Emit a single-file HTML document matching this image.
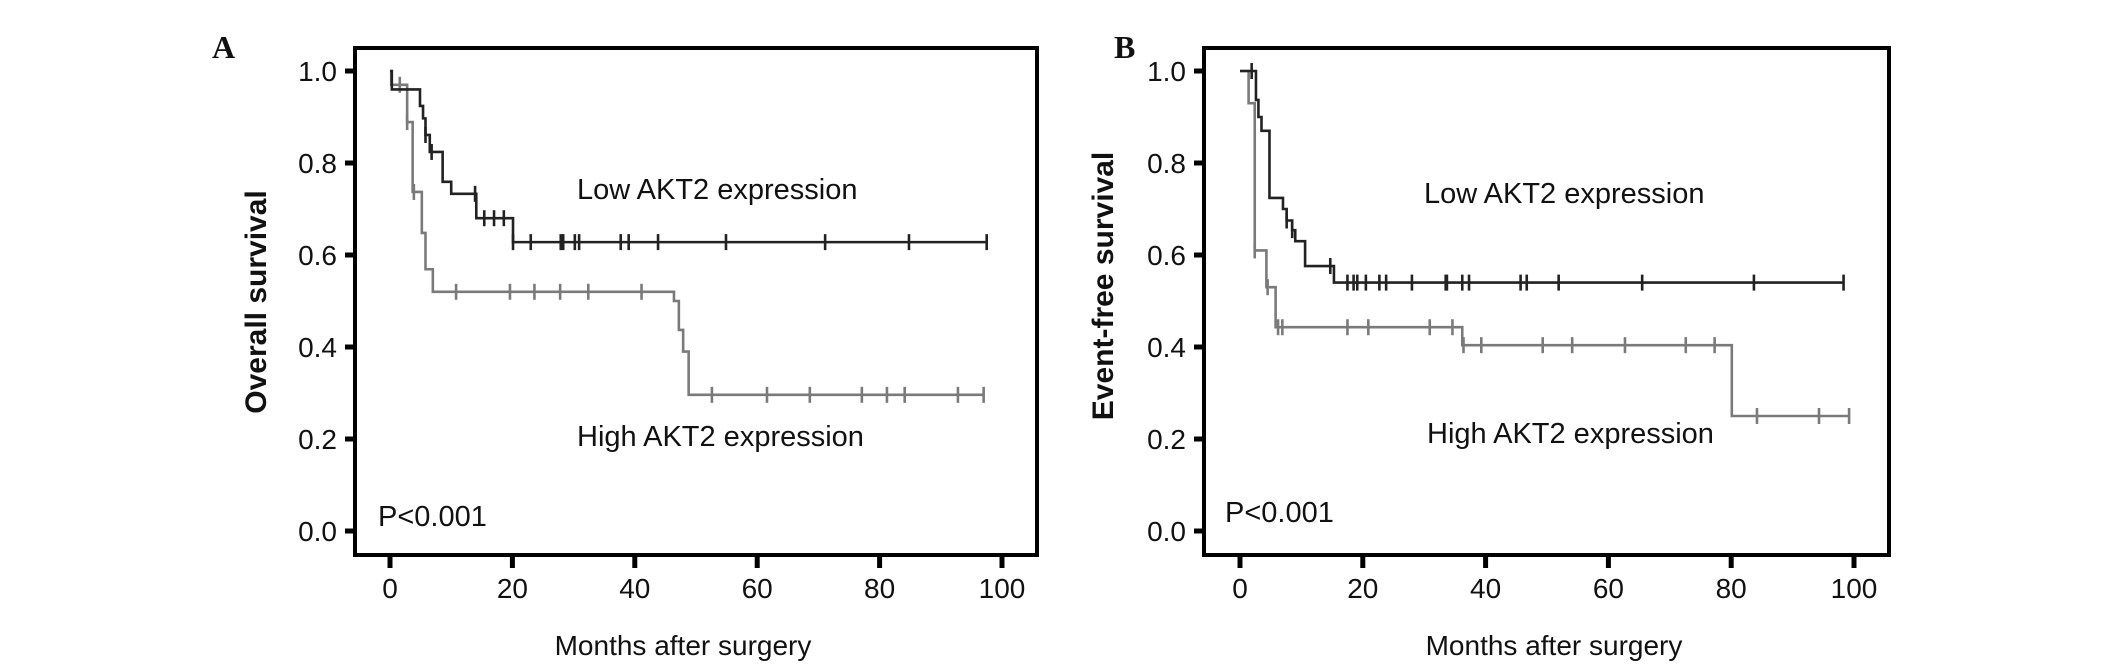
<!DOCTYPE html>
<html><head><meta charset="utf-8"><style>
html,body{margin:0;padding:0;background:#fff;}
svg{display:block;}
text{font-family:"Liberation Sans",Arial,sans-serif;fill:#111;}
</style></head><body>
<svg id="chart" width="2126" height="671" viewBox="0 0 2126 671"></svg>
<script>
// ---- data ----
const xTicks = [0, 20, 40, 60, 80, 100];
const yTicks = [0.0, 0.2, 0.4, 0.6, 0.8, 1.0];
const yTickLabels = ["0.0", "0.2", "0.4", "0.6", "0.8", "1.0"];
// Panel A: overall survival, step points [time, survival]
const osLowSteps = [[0,1.0],[0.3,0.96],[4.9,0.924],[5.4,0.897],[5.8,0.861],[6.5,0.824],[8.6,0.759],[10.0,0.733],[14.1,0.68],[20.1,0.628],[97.5,0.628]];
const osLowCensor = [5.8,6.8,13.9,15.4,17.0,18.6,20.1,23.0,27.9,28.3,30.2,30.9,37.7,39.0,43.8,54.9,71.1,84.8,97.5];
const osHighSteps = [[0,1.0],[0.2,0.97],[2.8,0.889],[3.7,0.737],[5.2,0.648],[5.8,0.569],[7.0,0.52],[46.4,0.50],[47.2,0.437],[47.9,0.39],[48.8,0.296],[97.0,0.296]];
const osHighCensor = [1.6,2.8,3.9,10.8,19.6,23.6,27.8,32.4,41.1,52.6,61.6,68.6,77.1,81.2,84.1,92.8,97.0];
// Panel B: event-free survival
const efsLowSteps = [[0,1.0],[2.6,0.937],[3.0,0.90],[3.5,0.87],[4.8,0.724],[7.0,0.70],[7.6,0.675],[8.5,0.654],[9.0,0.63],[10.6,0.576],[15.3,0.54],[98.3,0.54]];
const efsLowCensor = [1.9,7.6,8.5,14.7,17.5,18.5,19.1,20.5,22.7,23.8,28.0,33.5,33.7,36.2,37.3,45.7,46.7,51.9,65.5,83.7,98.3];
const efsHighSteps = [[0,1.0],[1.4,0.93],[2.4,0.61],[4.3,0.53],[5.8,0.443],[36.2,0.404],[80.1,0.25],[99.3,0.25]];
const efsHighCensor = [2.4,4.5,6.2,6.9,17.5,20.9,30.9,34.6,36.4,39.3,49.3,54.1,62.7,72.6,77.3,84.2,94.3,99.2];

const NS = "http://www.w3.org/2000/svg";
const svg = document.getElementById("chart");
function mk(tag, attrs, parent){
  const e = document.createElementNS(NS, tag);
  for (const k in attrs) e.setAttribute(k, attrs[k]);
  (parent||svg).appendChild(e);
  return e;
}
function valAt(steps, t){
  let v = steps[0][1];
  for (const s of steps) { if (s[0] <= t) v = s[1]; }
  return v;
}

function panel(cfg){
  const g = mk("g", {});
  
  
  const X = t => cfg.x0 + cfg.pxPerMonth * t;
  const Y = v => 531 - 460 * v;
  // frame
  const frame = mk("rect", {x:cfg.left, y:48, width:cfg.right-cfg.left, height:555-48, fill:"none", stroke:"#000", "stroke-width":4}, g);
  
  
  // y ticks
  yTicks.forEach((v,i)=>{
    const t = mk("line",{x1:cfg.left-10,x2:cfg.left,y1:Y(v),y2:Y(v),stroke:"#000","stroke-width":5},g);
    
    
    const l = mk("text",{x:cfg.left-18,y:Y(v)+10,"text-anchor":"end","font-size":28},g);
    l.textContent = yTickLabels[i];
    
    
  });
  xTicks.forEach(tv=>{
    const t = mk("line",{x1:X(tv),x2:X(tv),y1:555,y2:568,stroke:"#000","stroke-width":5},g);
    
    
    const l = mk("text",{x:X(tv),y:598,"text-anchor":"middle","font-size":28},g);
    l.textContent = String(tv);
    
    
  });
  // curves
  function curve(steps, censor, color, name){
    let d = "M" + X(steps[0][0]) + "," + Y(steps[0][1]);
    for (let i=1;i<steps.length;i++){
      d += " H" + X(steps[i][0]) + " V" + Y(steps[i][1]);
    }
    const p = mk("path",{d:d,fill:"none",stroke:color,"stroke-width":2.6},g);
    
    
    censor.forEach(c=>{
      const v = valAt(steps, c);
      const m = mk("line",{x1:X(c),x2:X(c),y1:Y(v)-8,y2:Y(v)+8,stroke:color,"stroke-width":2.6},g);
      
      
    });
  }
  curve(cfg.high, cfg.highC, "#7a7a7a", "high-akt2");
  curve(cfg.low, cfg.lowC, "#222", "low-akt2");
  // labels
  const low = mk("text",{x:cfg.lowX,y:cfg.lowY,"font-size":29},g);
  low.textContent = "Low AKT2 expression";
  
  
  const high = mk("text",{x:cfg.highX,y:cfg.highY,"font-size":29},g);
  high.textContent = "High AKT2 expression";
  
  
  const p = mk("text",{x:cfg.pX,y:cfg.pY,"font-size":29},g);
  p.textContent = "P<0.001";
  
  
  const xt = mk("text",{x:cfg.xTitleX,y:655,"text-anchor":"middle","font-size":28},g);
  xt.textContent = "Months after surgery";
  
  
  const yt = mk("text",{x:0,y:0,"text-anchor":"middle","font-size":30,"font-weight":"bold",transform:"translate("+(cfg.yTitleX+11)+","+cfg.yTitleY+") rotate(-90)"},g);
  yt.textContent = cfg.yTitle;
  
  
  const lt = mk("text",{x:cfg.letterX,y:58,"font-size":32,"font-weight":"bold",style:"font-family:'Liberation Serif',serif"},g);
  lt.textContent = cfg.letter;
  
  
}

panel({name:"panel-a-overall-survival", left:355, right:1037, x0:390, pxPerMonth:6.12,
  low:osLowSteps, lowC:osLowCensor, high:osHighSteps, highC:osHighCensor,
  lowX:577, lowY:199, highX:577, highY:446, pX:378, pY:526, xTitleX:683,
  yTitle:"Overall survival", yTitleX:255, yTitleY:302, letter:"A", letterX:212});
panel({name:"panel-b-event-free-survival", left:1204, right:1889, x0:1240, pxPerMonth:6.14,
  low:efsLowSteps, lowC:efsLowCensor, high:efsHighSteps, highC:efsHighCensor,
  lowX:1424, lowY:203, highX:1427, highY:443, pX:1225, pY:522, xTitleX:1554,
  yTitle:"Event-free survival", yTitleX:1102, yTitleY:286, letter:"B", letterX:1114});
</script>
</body></html>
